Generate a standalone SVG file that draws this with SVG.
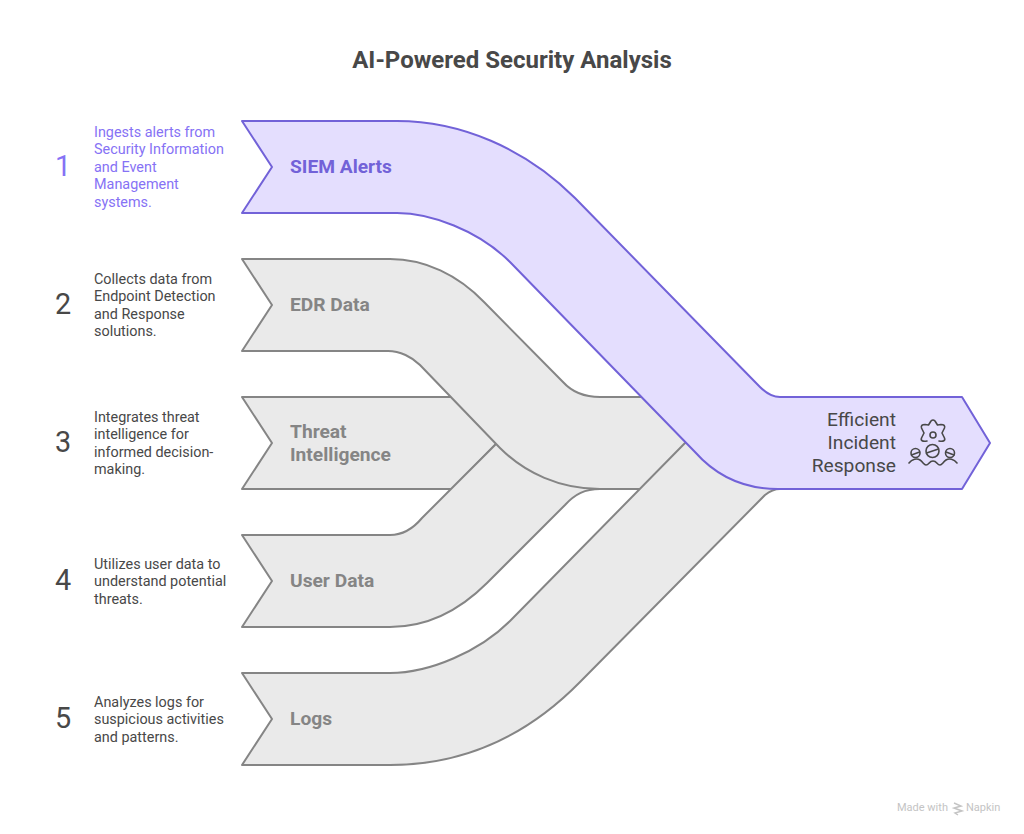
<svg xmlns="http://www.w3.org/2000/svg" width="1024" height="834" viewBox="0 0 1024 834">
<style>
text{font-family:Roboto,"Liberation Sans",sans-serif}
.g{fill:#eaeaea;stroke:#858585;stroke-width:2;stroke-linejoin:round}
.p{fill:#e4defe;stroke:#7262d8;stroke-width:2;stroke-linejoin:round}
.l{font-size:19.2px;font-weight:700;fill:#858585}
.lp{font-size:19.2px;font-weight:700;fill:#7262d8}
.d{font-size:14.4px;fill:#484848}
.dp{font-size:14.4px;fill:#8672f5}
.n{font-size:28.8px;font-weight:400;fill:#484848;text-anchor:middle}
.i{fill:none;stroke:#484848;stroke-width:1.6;stroke-linecap:round;stroke-linejoin:round}
.r{font-size:19.2px;fill:#484848;text-anchor:end}
</style>
<rect width="1024" height="834" fill="#fff"/>
<text x="512" y="68" font-size="24" font-weight="700" fill="#484848" text-anchor="middle">AI-Powered Security Analysis</text>
<g id="connectors">
<path id="band-threat" class="g" d="M242 397H452L497 443L452 489H242L272 443Z"/>
<path id="band-user" class="g" d="M242 535H390C402 535 412 530 422 518L497 443L600 470V489C585 489 575 494 565 505L487 583C458 612 425 627 390 627H242L272 581Z"/>
<path id="band-edr" class="g" d="M242 259H390C425 259 458 275 484 302L563 382C572 392 585 397 600 397H700V489H600C560 489 525 473 500 448L420 365C412 357 400 351 388 351H242L272 305Z"/>
<path id="band-logs" class="g" d="M242 673H390C430 673 480 651 510 621L685 443H780V489C775 489 770 491 765 495L580 682C525 738 460 765 390 765H242L272 719Z"/>
</g>
<g id="node-siem">
<path class="p" d="M242 121H397C460 121 525 148 575 198L760 387C766 393 772 397 780 397H962L990 443L962 489H778C745 489 718 478 695 452L510 262C478 230 430 213 397 213H242L272 167Z"/>
<text class="lp" x="290" y="173">SIEM Alerts</text>
</g>
<g id="node-edr"><text class="l" x="290" y="311">EDR Data</text></g>
<g id="node-threat"><text class="l" x="290" y="438">Threat</text><text class="l" x="290" y="461">Intelligence</text></g>
<g id="node-user"><text class="l" x="290" y="587">User Data</text></g>
<g id="node-logs"><text class="l" x="290" y="725">Logs</text></g>
<g id="node-response">
<text class="r" x="896" y="426">Efficient</text>
<text class="r" x="896" y="449">Incident</text>
<text class="r" x="896" y="472">Response</text>
<g class="i">
<path d="M927 441Q920 442 921.500 438L924 433L921.500 428Q920.500 424.500 925 424.500L928.500 425L931 421Q933 419 935 421L937.500 425L941 424.500Q945.500 424.500 944.500 428L942 433L944.500 438Q946 442 939 441"/>
<circle cx="933" cy="435" r="3"/>
<circle cx="932.500" cy="451" r="6.500"/><path d="M926.500 453l12-4"/>
<circle cx="915.500" cy="453" r="4.500"/><path d="M911.500 455l8-3"/>
<circle cx="950" cy="453" r="4.500"/><path d="M946 452l8 3"/>
<path d="M909 463c3-4 8-5 11-3 3 2 4 5 6 5 3 0 3-4 7-4s4 4 7 4c2 0 3-3 6-5 3-2 8-1 11 3"/>
</g>
</g>
<g id="item-1">
<text class="n" x="63" y="176" style="fill:#8672f5">1</text>
<text class="dp" x="94" y="137">Ingests alerts from</text><text class="dp" x="94" y="154.400">Security Information</text><text class="dp" x="94" y="171.800">and Event</text><text class="dp" x="94" y="189.200">Management</text><text class="dp" x="94" y="206.600">systems.</text>
</g>
<g id="item-2">
<text class="n" x="63" y="314">2</text>
<text class="d" x="94" y="284">Collects data from</text><text class="d" x="94" y="301.400">Endpoint Detection</text><text class="d" x="94" y="318.800">and Response</text><text class="d" x="94" y="336.200">solutions.</text>
</g>
<g id="item-3">
<text class="n" x="63" y="452">3</text>
<text class="d" x="94" y="422">Integrates threat</text><text class="d" x="94" y="439.400">intelligence for</text><text class="d" x="94" y="456.800">informed decision-</text><text class="d" x="94" y="474.200">making.</text>
</g>
<g id="item-4">
<text class="n" x="63" y="590">4</text>
<text class="d" x="94" y="569">Utilizes user data to</text><text class="d" x="94" y="586.400">understand potential</text><text class="d" x="94" y="603.800">threats.</text>
</g>
<g id="item-5">
<text class="n" x="63" y="728">5</text>
<text class="d" x="94" y="707">Analyzes logs for</text><text class="d" x="94" y="724.400">suspicious activities</text><text class="d" x="94" y="741.800">and patterns.</text>
</g>
<g id="credit">
<text x="897" y="811" font-size="11" fill="#c4c4c4">Made with</text>
<path d="M954 803l7 3-7 2 8 3-7 2 3 2" fill="none" stroke="#c4c4c4" stroke-width="1.500"/>
<text x="966" y="811" font-size="11" fill="#c4c4c4">Napkin</text>
</g>
</svg>
